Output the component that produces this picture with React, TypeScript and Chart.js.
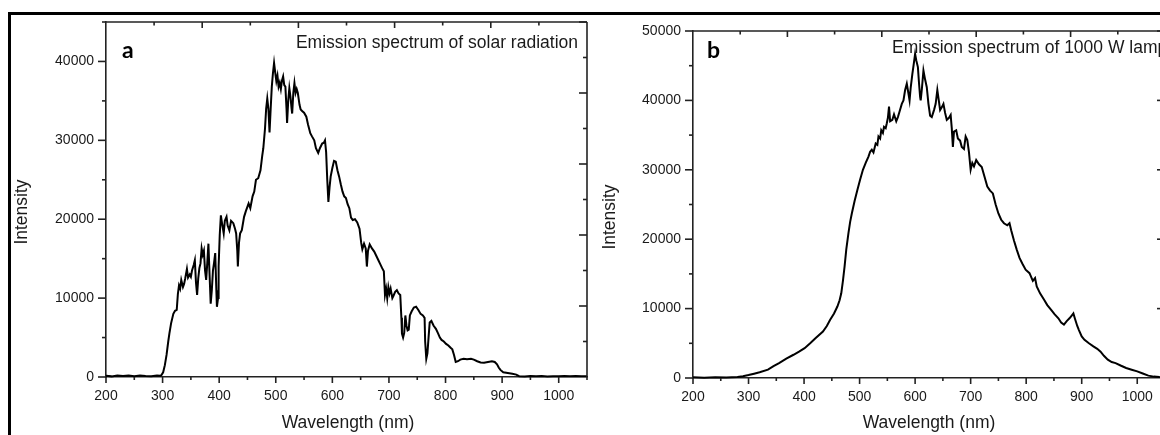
import React, { useEffect, useRef } from 'react';
import { Chart, registerables } from 'chart.js';

Chart.register(...registerables);

// ---- Panel a: emission spectrum of solar radiation ----
const solarWavelength = [
  200, 210, 220, 230, 240, 250, 260, 270, 280, 290, 296, 298, 301, 304, 307, 310, 312, 315, 319, 322,
  325, 327, 329, 331, 333, 336, 338, 340, 343, 345, 348, 350, 352, 355, 357, 359, 361, 363, 365, 367,
  369, 371, 373, 375, 377, 379, 381, 383, 385, 387, 389, 391, 393, 395, 396, 398, 399, 401, 403, 405,
  408, 410, 413, 415, 418, 421, 425, 428, 430, 432, 433, 435, 437, 440, 444, 447, 450, 452, 455, 459,
  462, 465, 469, 473, 476, 478, 481, 483, 485, 487, 489, 491, 493, 495, 497, 499, 501, 503, 505, 507,
  509, 511, 513, 515, 517, 519, 520, 522, 524, 526, 528, 529, 531, 533, 535, 537, 539, 542, 544, 547,
  550, 554, 557, 561, 564, 568, 571, 575, 578, 582, 585, 587, 589, 591, 593, 595, 597, 600, 603, 606,
  609, 612, 615, 618, 621, 624, 627, 630, 633, 636, 640, 644, 648, 651, 653, 656, 659, 661, 663, 666,
  670, 674, 678, 682, 684, 688, 691, 693, 695, 697, 699, 701, 703, 706, 708, 711, 714, 717, 720, 722,
  723, 725, 727, 729, 731, 733, 735, 737, 740, 744, 748, 752, 756, 760, 763, 764, 766, 768, 770, 772,
  775, 779, 783, 787, 790, 793, 797, 801, 805, 809, 812, 815, 818, 822, 826, 832, 838, 845, 850, 856,
  862, 868, 875, 882, 887, 891, 894, 897, 902, 910, 918, 925, 930, 940, 950, 960, 970, 980, 990, 1000,
  1010, 1020, 1030, 1040, 1050,
];
const solarIntensity = [
  150, 80, 200, 120, 180, 90, 200, 140, 110, 190, 150, 250, 600, 1500, 2800, 4500, 5500, 6800, 8000, 8400,
  8500, 10500, 11600, 11200, 12300, 11400, 11800, 12500, 13700, 12600, 13000, 12700, 13500, 14200, 14800, 12000, 10400, 12500, 13800, 14400,
  16300, 15500, 16000, 13500, 12300, 14500, 16900, 13000, 9300, 11000, 13500, 14500, 15700, 11000, 8900, 10000, 14000, 18000, 20500, 19500,
  18200, 19800, 20300, 19200, 18600, 19800, 19500, 18800, 18200, 16000, 14000, 17000, 18200, 18600, 20300, 21000, 21600, 22000, 21400, 22900,
  23500, 25000, 25200, 26200, 28000, 29000, 31500, 34000, 35300, 34000, 31000, 34000, 36800, 38500, 39800, 38600, 37500, 38200, 36800, 37300,
  36500, 37600, 38100, 37000, 36800, 34000, 32200, 35000, 36600, 35500, 34000, 33400, 36000, 37250, 36000, 36500, 36000, 34500, 33900, 33700,
  33500, 33000, 32000, 30900, 30500, 30000, 29000, 28400, 29000, 29600, 29700, 30000, 28500, 25000, 22200, 24000, 25400, 26500, 27400, 27300,
  26200, 25400, 24400, 23500, 22900, 22700, 21900, 21400, 20200, 19900, 20000, 19600, 18800, 17000, 16200, 16900, 16300, 14000, 16000, 16800,
  16300, 15900, 15300, 14700, 14400, 13800, 13400, 10400, 11200, 10000, 11400, 10600, 11200, 10000, 10300, 10800, 11000, 10600, 10400, 7500,
  5500, 5000, 5600, 7800, 6500, 5900, 6000, 7800, 8300, 8800, 8900, 8500, 8000, 7800, 7500, 4500, 2300, 3000, 5000, 6900,
  7100, 6500, 6100, 5500, 5000, 4700, 4500, 4200, 4000, 3700, 3500, 2800, 1900, 2000, 2200, 2300, 2250, 2300, 2200, 2000,
  1850, 1800, 1900, 2000, 1900, 1600, 1200, 900, 600, 500, 400, 300, 100, 60, 120, 80, 130, 70, 110, 90,
  130, 80, 120, 90, 100,
];

// ---- Panel b: emission spectrum of 1000 W lamp ----
const lampWavelength = [
  200, 220, 240, 260, 280, 290, 300, 310, 320, 335, 345, 355, 368, 381, 391, 401, 411, 421, 434, 441,
  447, 454, 460, 464, 467, 470, 473, 476, 480, 483, 486, 491, 496, 501, 506, 511, 516, 519, 522, 525,
  529, 532, 534, 537, 539, 542, 544, 547, 549, 551, 553, 555, 559, 562, 566, 569, 572, 576, 579, 582,
  585, 588, 590, 592, 595, 598, 600, 602, 605, 607, 609, 610, 612, 615, 618, 621, 624, 627, 630, 634,
  637, 640, 643, 645, 648, 651, 654, 657, 661, 664, 666, 668, 670, 674, 677, 681, 684, 688, 691, 694,
  697, 700, 703, 706, 710, 715, 720, 725, 730, 735, 740, 745, 750, 755, 760, 766, 770, 773, 778, 783,
  788, 793, 799, 806, 812, 816, 819, 825, 832, 838, 845, 851, 858, 863, 868, 873, 878, 882, 885, 888,
  892, 895, 900, 905, 913, 921, 928, 934, 940, 947, 954, 961, 970, 980, 990, 1000, 1010, 1020, 1030, 1040,
  1050,
];
const lampIntensity = [
  100, 50, 120, 80, 150, 250, 420, 620, 820, 1200, 1700, 2150, 2800, 3350, 3800, 4300, 5000, 5750, 6700, 7500,
  8400, 9300, 10300, 11200, 12200, 14000, 16100, 18500, 20900, 22500, 23700, 25500, 27100, 28600, 30000, 31000, 31900, 32600, 32900, 32500,
  33800, 33600, 34800, 34500, 35700, 35300, 36200, 36000, 36700, 37500, 39100, 37000, 37200, 38000, 37000, 37600, 38400, 39500, 40000, 41500,
  42400, 41000, 40000, 41800, 43800, 45500, 46700, 45800, 44800, 42500, 40500, 40000, 41500, 44300, 43000, 41900, 39500, 37800, 37600, 38600,
  39500, 41500, 39800, 38600, 39000, 39500, 38200, 37200, 37500, 37900, 36000, 33300, 35500, 35700, 34500, 34200, 33300, 33000, 34800, 34300,
  32500, 30000, 31000, 30500, 31400, 30800, 30400, 29000, 27600, 27000, 26600, 25000, 23700, 22800, 22300, 22000, 22300, 21300, 19800, 18500,
  17300, 16500, 15600, 15100, 14000, 14400, 13200, 12200, 11300, 10500, 9800, 9200, 8600, 8000, 7700, 8200, 8600, 9000, 9300, 8500,
  7500, 6900, 6000, 5500, 5000, 4550, 4200, 3800, 3200, 2650, 2300, 2150, 1800, 1450, 1200, 960, 650, 340, 200, 140,
  100,
];

const xTickLabels = [200, 300, 400, 500, 600, 700, 800, 900, 1000];
const solarYTicks = [0, 10000, 20000, 30000, 40000];
const lampYTicks = [0, 10000, 20000, 30000, 40000, 50000];

const AXIS_COLOR = '#222';
const TEXT_COLOR = '#1a1a1a';
const SANS = '"Liberation Sans", Arial, sans-serif';

type PanelProps = {
  wavelength: number[];
  intensity: number[];
  yMax: number;
  yTicks: number[];
  rightStep: number;
  letter: string;
  caption: string;
  captionAlign: 'left' | 'right';
  captionX: number;
  captionY: number;
  letterX: number;
  yTitleX: number;
  yTitleY: number;
  xTitleX: number;
  canvasLeft: number;
  canvasWidth: number;
  yAxisWidth: number;
  xAxisHeight: number;
  padTop: number;
  padRight: number;
};

function Panel(p: PanelProps) {
  const ref = useRef<HTMLCanvasElement | null>(null);

  useEffect(() => {
    if (!ref.current) return;
    const decorations = {
      id: 'decor' + p.letter,
      afterDraw(chart: any) {
        const { ctx, chartArea } = chart;
        const { left, right, top, bottom } = chartArea;
        const xs = chart.scales.x;
        const ys = chart.scales.y;
        ctx.save();
        ctx.strokeStyle = AXIS_COLOR;
        ctx.lineWidth = 1.6;
        const seg = (x1: number, y1: number, x2: number, y2: number) => {
          ctx.beginPath();
          ctx.moveTo(x1, y1);
          ctx.lineTo(x2, y2);
          ctx.stroke();
        };
        // top and right frame
        seg(left, top, right, top);
        seg(right, top, right, bottom);
        // bottom ticks (outward)
        for (let v = 200; v <= 1050; v += 50) {
          const px = xs.getPixelForValue(v);
          seg(px, bottom, px, bottom + (v % 100 === 0 ? 6 : 3));
        }
        // left ticks (outward)
        for (let v = 0; v <= p.yMax; v += 5000) {
          const py = ys.getPixelForValue(v);
          seg(left - (v % 10000 === 0 ? 8 : 4), py, left, py);
        }
        // top ticks (inward), 10 divisions
        for (let k = 1; k < 10; k++) {
          const px = xs.getPixelForValue(200 + 85 * k);
          seg(px, top, px, top + (k % 2 === 0 ? 6 : 3.5));
        }
        // right ticks (inward)
        for (let k = 1; k * p.rightStep < p.yMax + 1; k++) {
          const py = ys.getPixelForValue(k * p.rightStep);
          seg(right - (k % 2 === 0 ? 8 : 4), py, right, py);
        }
        // texts
        ctx.fillStyle = TEXT_COLOR;
        ctx.textBaseline = 'alphabetic';
        ctx.font = `17.5px ${SANS}`;
        ctx.textAlign = p.captionAlign;
        ctx.fillText(p.caption, p.captionX, p.captionY);
        ctx.textAlign = 'center';
        ctx.fillText('Wavelength (nm)', p.xTitleX, 428);
        ctx.save();
        ctx.translate(p.yTitleX, p.yTitleY);
        ctx.rotate(-Math.PI / 2);
        ctx.textBaseline = 'middle';
        ctx.fillText('Intensity', 0, 0);
        ctx.restore();
        ctx.font = `bold 23px Lato, "Open Sans", sans-serif`;
        ctx.textAlign = 'left';
        ctx.fillStyle = '#000';
        ctx.fillText(p.letter, p.letterX, 58);
        ctx.restore();
      },
    };

    const chart = new Chart(ref.current, {
      type: 'line',
      data: {
        datasets: [
          {
            data: p.wavelength.map((w, i) => ({ x: w, y: p.intensity[i] })),
            borderColor: '#000',
            borderWidth: 2,
            pointRadius: 0,
            tension: 0,
            fill: false,
            clip: false as any,
          },
        ],
      },
      options: {
        animation: false,
        responsive: false,
        devicePixelRatio: 1,
        layout: { padding: { top: p.padTop, right: p.padRight, left: 0, bottom: 0 } },
        plugins: { legend: { display: false }, tooltip: { enabled: false } },
        scales: {
          x: {
            type: 'linear',
            min: 200,
            max: 1050,
            afterBuildTicks: (s: any) => {
              s.ticks = xTickLabels.map((v) => ({ value: v }));
            },
            afterFit: (s: any) => {
              s.height = p.xAxisHeight;
            },
            grid: { display: false, drawTicks: false },
            border: { display: true, color: AXIS_COLOR, width: 1.6 },
            ticks: {
              padding: 11,
              color: TEXT_COLOR,
              font: { family: SANS, size: 14 },
              maxRotation: 0,
              autoSkip: false,
              callback: (v: any) => String(v),
            },
          },
          y: {
            type: 'linear',
            min: 0,
            max: p.yMax,
            afterBuildTicks: (s: any) => {
              s.ticks = p.yTicks.map((v) => ({ value: v }));
            },
            afterFit: (s: any) => {
              s.width = p.yAxisWidth;
            },
            grid: { display: false, drawTicks: false },
            border: { display: true, color: AXIS_COLOR, width: 1.6 },
            ticks: {
              padding: 12,
              color: TEXT_COLOR,
              font: { family: SANS, size: 14 },
              autoSkip: false,
              callback: (v: any) => String(v),
            },
          },
        },
      },
      plugins: [decorations],
    } as any);
    return () => chart.destroy();
  }, []);

  return (
    <canvas
      ref={ref}
      width={p.canvasWidth}
      height={435}
      style={{ position: 'absolute', left: p.canvasLeft, top: 0, width: p.canvasWidth, height: 435 }}
    />
  );
}

export default function App() {
  return (
    <div
      style={{
        position: 'absolute',
        left: 0,
        top: 0,
        width: 1160,
        height: 435,
        overflow: 'hidden',
        background: '#fff',
      }}
    >
      <div
        style={{
          position: 'absolute',
          left: 8,
          top: 12,
          width: 1300,
          height: 600,
          borderTop: '3px solid #000',
          borderLeft: '3px solid #000',
        }}
      />
      <Panel
        wavelength={solarWavelength}
        intensity={solarIntensity}
        yMax={45000}
        yTicks={solarYTicks}
        rightStep={4500}
        letter="a"
        caption="Emission spectrum of solar radiation"
        captionAlign="right"
        captionX={578}
        captionY={48}
        letterX={122}
        yTitleX={22}
        yTitleY={212}
        xTitleX={348}
        canvasLeft={0}
        canvasWidth={596}
        yAxisWidth={106}
        xAxisHeight={58}
        padTop={22}
        padRight={9}
      />
      <Panel
        wavelength={lampWavelength}
        intensity={lampIntensity}
        yMax={50000}
        yTicks={lampYTicks}
        rightStep={5000}
        letter="b"
        caption="Emission spectrum of 1000 W lamp"
        captionAlign="left"
        captionX={296}
        captionY={53}
        letterX={111}
        yTitleX={14}
        yTitleY={217}
        xTitleX={333}
        canvasLeft={596}
        canvasWidth={580}
        yAxisWidth={97}
        xAxisHeight={57}
        padTop={31}
        padRight={11}
      />
    </div>
  );
}
